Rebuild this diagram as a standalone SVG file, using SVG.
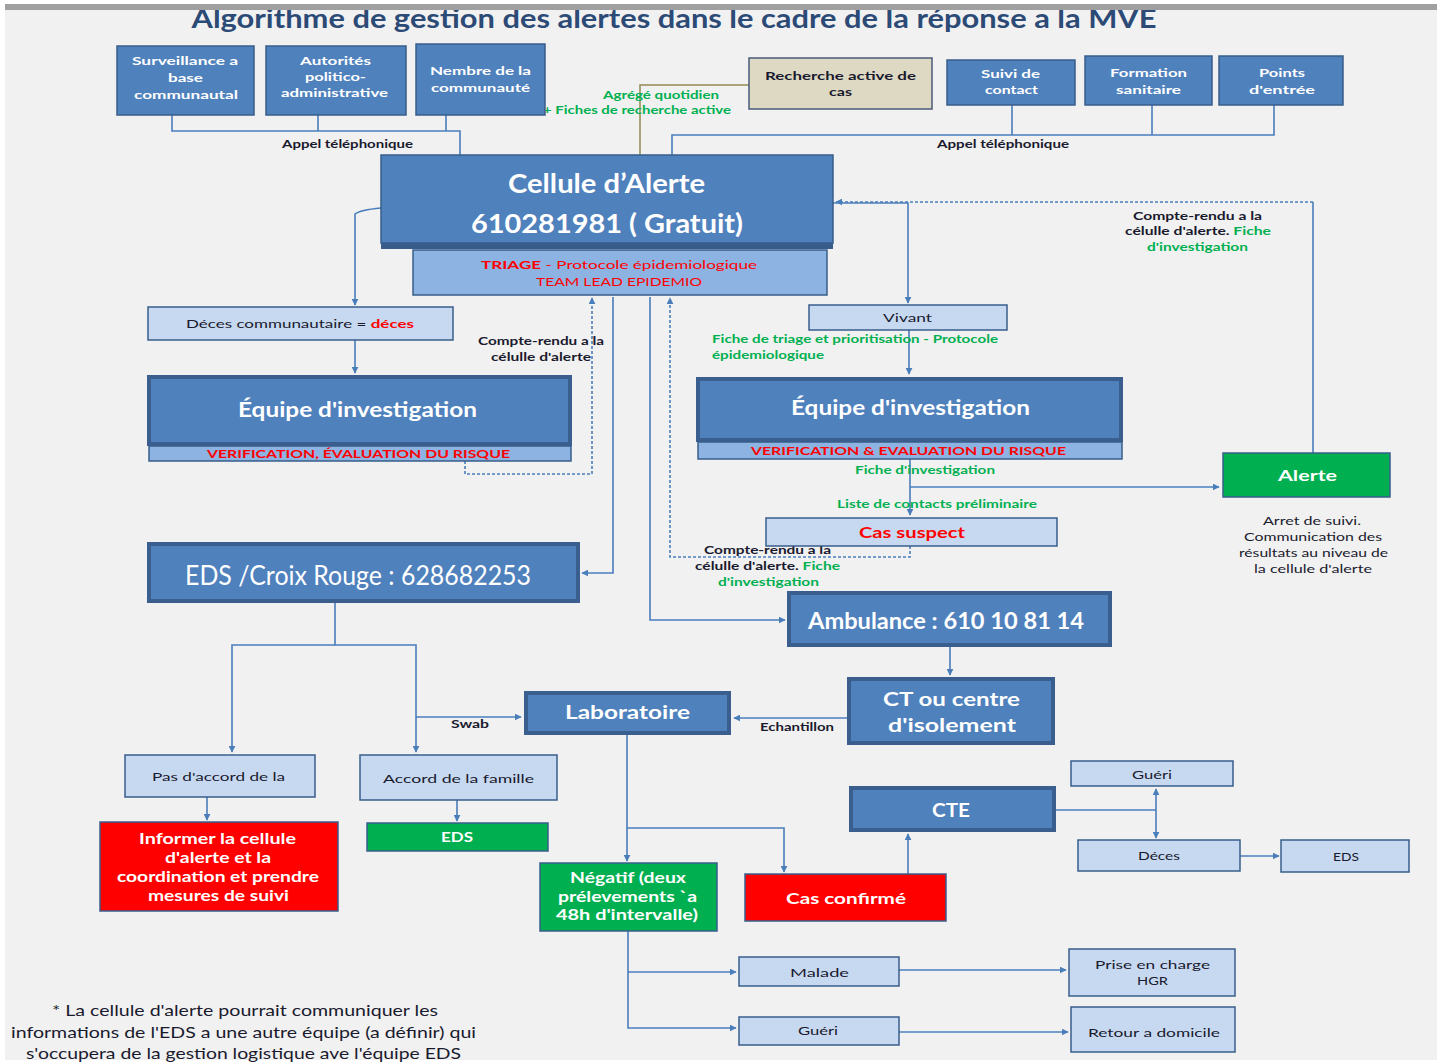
<svg xmlns="http://www.w3.org/2000/svg" width="1440" height="1063" viewBox="0 0 1440 1063">
<defs>
<marker id="ah" viewBox="0 0 10 10" refX="9" refY="5" markerWidth="7" markerHeight="7" markerUnits="userSpaceOnUse" orient="auto"><path d="M0,0 L10,5 L0,10 z" fill="#4a7ebb"/></marker>
<style>
text{font-family:Lato,"Open Sans","Liberation Sans",sans-serif}
.bx{fill:#4f81bd;stroke:#385d8a;stroke-width:1.5}
.bxd{fill:#4f81bd;stroke:#3a5f8f;stroke-width:4}
.lt{fill:#c6d9f1;stroke:#385d8a;stroke-width:1.5}
.sub{fill:#8db3e2;stroke:#385d8a;stroke-width:1.5}
.gr{fill:#00b050;stroke:#385d8a;stroke-width:1.5}
.rd{fill:#ff0000;stroke:#385d8a;stroke-width:1.5}
.tan{fill:#ddd9c3;stroke:#4a5a7a;stroke-width:1.5}
.w{fill:#fff;font-weight:bold;text-anchor:middle}
.d{fill:#1a1a2e;text-anchor:middle}
.db{fill:#1a1a2e;font-weight:bold;text-anchor:middle;font-size:11px}
.g{fill:#00b050;font-weight:bold}
.r{fill:#ff0000}
.c{fill:none;stroke:#4a7ebb;stroke-width:1.6}
.cd{fill:none;stroke:#4a7ebb;stroke-width:1.6;stroke-dasharray:3 2}
</style>
</defs>
<rect x="0" y="0" width="1440" height="1063" fill="#ffffff"/>
<rect x="5" y="8" width="1432" height="1052" fill="#f1f1f1"/>
<text x="674" y="28" font-size="26" font-weight="bold" fill="#2c4a76" text-anchor="middle" textLength="965" lengthAdjust="spacingAndGlyphs">Algorithme de gestion des alertes dans le cadre de la réponse a la MVE</text>
<rect x="5" y="4" width="1432" height="6" fill="#a0a0a0"/>

<g id="connectors">
<path class="c" d="M172,115 V131 H460 V155 M318,115 V131 M446,115 V131"/>
<path class="c" d="M672,155 V135 H1274 V105 M1012,105 V135 M1152,105 V135"/>
<path d="M749,85 H640 V155" fill="none" stroke="#938953" stroke-width="1.5"/>
<path class="c" d="M381,208 Q360,210 355,214 V305" marker-end="url(#ah)"/>
<path class="c" d="M833,203 H908 V303" marker-end="url(#ah)"/>
<path class="c" d="M1313,453 V202"/>
<path class="cd" d="M1313,202 H836" marker-end="url(#ah)"/>
<path class="c" d="M355,340 V373" marker-end="url(#ah)"/>
<path class="cd" d="M465,461 V474 H592 V298" marker-end="url(#ah)"/>
<path class="c" d="M613,297 V573 H582" marker-end="url(#ah)"/>
<path class="c" d="M650,297 V620 H785" marker-end="url(#ah)"/>
<path class="cd" d="M910,546 V557 H670 V298" marker-end="url(#ah)"/>
<path class="c" d="M909,330 V374" marker-end="url(#ah)"/>
<path class="c" d="M910,459 V515" marker-end="url(#ah)"/>
<path class="c" d="M910,487 H1219" marker-end="url(#ah)"/>
<path class="c" d="M950,647 V675" marker-end="url(#ah)"/>
<path class="c" d="M847,718 H734" marker-end="url(#ah)"/>
<path class="c" d="M335,603 V645 H416 V752" marker-end="url(#ah)"/>
<path class="c" d="M335,645 H232 V752" marker-end="url(#ah)"/>
<path class="c" d="M416,717 H521" marker-end="url(#ah)"/>
<path class="c" d="M207,797 V820" marker-end="url(#ah)"/>
<path class="c" d="M457,800 V821" marker-end="url(#ah)"/>
<path class="c" d="M627,735 V861" marker-end="url(#ah)"/>
<path class="c" d="M627,828 H784 V872" marker-end="url(#ah)"/>
<path class="c" d="M908,874 V834" marker-end="url(#ah)"/>
<path class="c" d="M1056,810 H1156"/>
<path class="c" d="M1156,810 V789" marker-end="url(#ah)"/>
<path class="c" d="M1156,810 V838" marker-end="url(#ah)"/>
<path class="c" d="M1240,856 H1279" marker-end="url(#ah)"/>
<path class="c" d="M628,931 V1028 H736" marker-end="url(#ah)"/>
<path class="c" d="M628,972 H736" marker-end="url(#ah)"/>
<path class="c" d="M899,970 H1066" marker-end="url(#ah)"/>
<path class="c" d="M899,1032 H1068" marker-end="url(#ah)"/>
</g>

<g id="labels">
<text class="db" x="347.5" y="148" textLength="131" lengthAdjust="spacingAndGlyphs">Appel téléphonique</text>
<text class="db" x="1003" y="148" textLength="132" lengthAdjust="spacingAndGlyphs">Appel téléphonique</text>
<text class="g" x="661" y="99" font-size="11" text-anchor="middle" textLength="116" lengthAdjust="spacingAndGlyphs">Agrégé quotidien</text>
<text class="g" x="637" y="114" font-size="11" text-anchor="middle" textLength="188" lengthAdjust="spacingAndGlyphs">+ Fiches de recherche  active</text>
<text class="db" x="1197.5" y="220" textLength="129" lengthAdjust="spacingAndGlyphs">Compte-rendu  a la</text>
<text class="db" x="1198" y="235" textLength="146" lengthAdjust="spacingAndGlyphs">célulle d'alerte. <tspan class="g">Fiche</tspan></text>
<text class="g" x="1197.5" y="251" font-size="11" text-anchor="middle" textLength="101" lengthAdjust="spacingAndGlyphs">d'investigation</text>
<text class="db" x="541" y="345" textLength="126" lengthAdjust="spacingAndGlyphs">Compte-rendu  a la</text>
<text class="db" x="541" y="361" textLength="100" lengthAdjust="spacingAndGlyphs">célulle d'alerte</text>
<text class="g" x="712" y="343" font-size="11" textLength="286" lengthAdjust="spacingAndGlyphs">Fiche de triage et prioritisation - Protocole</text>
<text class="g" x="712" y="359" font-size="11" textLength="112" lengthAdjust="spacingAndGlyphs">épidemiologique</text>
<text class="g" x="925" y="474" font-size="11" text-anchor="middle" textLength="140" lengthAdjust="spacingAndGlyphs">Fiche d'investigation</text>
<text class="g" x="937" y="508" font-size="11" text-anchor="middle" textLength="200" lengthAdjust="spacingAndGlyphs">Liste de contacts  préliminaire</text>
<text class="db" x="767.5" y="554" textLength="127" lengthAdjust="spacingAndGlyphs">Compte-rendu  a la</text>
<text class="db" x="767.5" y="570" textLength="145" lengthAdjust="spacingAndGlyphs">célulle d'alerte. <tspan class="g">Fiche</tspan></text>
<text class="g" x="768.5" y="586" font-size="11" text-anchor="middle" textLength="101" lengthAdjust="spacingAndGlyphs">d'investigation</text>
<text class="d" x="1312" y="525" font-size="11" textLength="98" lengthAdjust="spacingAndGlyphs">Arret de suivi.</text>
<text class="d" x="1313" y="541" font-size="11" textLength="138" lengthAdjust="spacingAndGlyphs">Communication des</text>
<text class="d" x="1313.5" y="557" font-size="11" textLength="149" lengthAdjust="spacingAndGlyphs">résultats au niveau de</text>
<text class="d" x="1313" y="573" font-size="11" textLength="118" lengthAdjust="spacingAndGlyphs">la cellule d'alerte</text>
<text class="db" x="797" y="731" textLength="74" lengthAdjust="spacingAndGlyphs">Echantillon</text>
<text class="db" x="470" y="728" textLength="38" lengthAdjust="spacingAndGlyphs">Swab</text>
<text class="d" x="245" y="1016" font-size="15" textLength="386" lengthAdjust="spacingAndGlyphs">* La cellule d'alerte pourrait communiquer les</text>
<text class="d" x="243.5" y="1038" font-size="15" textLength="465" lengthAdjust="spacingAndGlyphs">informations de l'EDS a une autre équipe (a définir) qui</text>
<text class="d" x="243.5" y="1059" font-size="15" textLength="435" lengthAdjust="spacingAndGlyphs">s'occupera de la gestion logistique ave l'équipe EDS</text>
</g>

<g id="n-surveillance"><rect class="bx" x="117" y="46" width="137" height="69"/>
<text class="w" font-size="12" x="185" y="65" textLength="106" lengthAdjust="spacingAndGlyphs">Surveillance  a</text><text class="w" font-size="12" x="185.5" y="82" textLength="35" lengthAdjust="spacingAndGlyphs">base</text><text class="w" font-size="12" x="186" y="99" textLength="104" lengthAdjust="spacingAndGlyphs">communautal</text></g>
<g id="n-autorites"><rect class="bx" x="266" y="46" width="140" height="69"/>
<text class="w" font-size="12" x="335.5" y="65" textLength="71" lengthAdjust="spacingAndGlyphs">Autorités</text><text class="w" font-size="12" x="335.5" y="81" textLength="61" lengthAdjust="spacingAndGlyphs">politico-</text><text class="w" font-size="12" x="334.5" y="97" textLength="107" lengthAdjust="spacingAndGlyphs">administrative</text></g>
<g id="n-nembre"><rect class="bx" x="416" y="44" width="129" height="71"/>
<text class="w" font-size="12" x="480.5" y="75" textLength="101" lengthAdjust="spacingAndGlyphs">Nembre de la</text><text class="w" font-size="12" x="480.5" y="92" textLength="99" lengthAdjust="spacingAndGlyphs">communauté</text></g>
<g id="n-recherche"><rect class="tan" x="749" y="58" width="183" height="51"/>
<text class="db" font-size="12" x="840.5" y="80" textLength="151" lengthAdjust="spacingAndGlyphs">Recherche  active  de</text><text class="db" font-size="12" x="840.5" y="96" textLength="23" lengthAdjust="spacingAndGlyphs">cas</text></g>
<g id="n-suivi"><rect class="bx" x="947" y="60" width="128" height="45"/>
<text class="w" font-size="12" x="1010.5" y="78" textLength="59" lengthAdjust="spacingAndGlyphs">Suivi de</text><text class="w" font-size="12" x="1011.5" y="94" textLength="53" lengthAdjust="spacingAndGlyphs">contact</text></g>
<g id="n-formation"><rect class="bx" x="1085" y="56" width="127" height="49"/>
<text class="w" font-size="12" x="1148.5" y="77" textLength="77" lengthAdjust="spacingAndGlyphs">Formation</text><text class="w" font-size="12" x="1148.5" y="94" textLength="65" lengthAdjust="spacingAndGlyphs">sanitaire</text></g>
<g id="n-points"><rect class="bx" x="1219" y="56" width="124" height="49"/>
<text class="w" font-size="12" x="1282" y="77" textLength="46" lengthAdjust="spacingAndGlyphs">Points</text><text class="w" font-size="12" x="1282" y="94" textLength="66" lengthAdjust="spacingAndGlyphs">d'entrée</text></g>

<g id="n-cellule"><rect x="381" y="155" width="452" height="94" fill="#385d8a"/><rect class="bx" x="381" y="155" width="452" height="88"/>
<text class="w" font-size="27" x="606.5" y="193" textLength="197" lengthAdjust="spacingAndGlyphs">Cellule d’Alerte</text><text class="w" font-size="27" x="607" y="233" textLength="272" lengthAdjust="spacingAndGlyphs">610281981 ( Gratuit)</text>
<rect class="sub" x="413" y="250" width="414" height="45"/>
<text class="r" font-size="12" x="619" y="269" text-anchor="middle" textLength="276" lengthAdjust="spacingAndGlyphs"><tspan font-weight="bold">TRIAGE</tspan>   - Protocole épidemiologique</text>
<text class="r" font-size="12" x="619" y="286" text-anchor="middle" textLength="166" lengthAdjust="spacingAndGlyphs">TEAM  LEAD  EPIDEMIO</text></g>

<g id="n-deces-comm"><rect class="lt" x="148" y="307" width="305" height="33"/>
<text class="d" font-size="12" x="300" y="328" textLength="228" lengthAdjust="spacingAndGlyphs">Déces communautaire = <tspan class="r" font-weight="bold">déces</tspan></text></g>

<g id="n-equipe1"><rect class="bxd" x="149" y="377" width="421" height="67"/>
<text class="w" font-size="20" x="357.5" y="417" textLength="239" lengthAdjust="spacingAndGlyphs">Équipe d'investigation</text>
<rect class="sub" x="149" y="446" width="422" height="15"/>
<text class="r" font-size="12" font-weight="bold" x="358.5" y="458" text-anchor="middle" textLength="303" lengthAdjust="spacingAndGlyphs">VERIFICATION,  ÉVALUATION  DU RISQUE</text></g>

<g id="n-vivant"><rect class="lt" x="809" y="305" width="198" height="25"/>
<text class="d" font-size="12" x="907.5" y="322" textLength="49" lengthAdjust="spacingAndGlyphs">Vivant</text></g>

<g id="n-equipe2"><rect class="bxd" x="698" y="379" width="423" height="61"/>
<text class="w" font-size="20" x="910.5" y="415" textLength="239" lengthAdjust="spacingAndGlyphs">Équipe d'investigation</text>
<rect class="sub" x="698" y="442" width="424" height="17"/>
<text class="r" font-size="12" font-weight="bold" x="908.5" y="455" text-anchor="middle" textLength="315" lengthAdjust="spacingAndGlyphs">VERIFICATION  &amp; EVALUATION  DU RISQUE</text></g>

<g id="n-alerte"><rect class="gr" x="1223" y="453" width="167" height="44"/>
<text class="w" font-size="16" x="1307.5" y="481" textLength="59" lengthAdjust="spacingAndGlyphs">Alerte</text></g>

<g id="n-cas-suspect"><rect class="lt" x="766" y="518" width="291" height="28"/>
<text class="r" font-size="15" font-weight="bold" x="912" y="538" text-anchor="middle" textLength="106" lengthAdjust="spacingAndGlyphs">Cas suspect</text></g>

<g id="n-eds-croix"><rect class="bxd" x="149" y="544" width="429" height="57"/>
<text fill="#fff" font-size="26" x="358" y="585" text-anchor="middle" textLength="346" lengthAdjust="spacingAndGlyphs">EDS /Croix Rouge : 628682253</text></g>

<g id="n-ambulance"><rect class="bxd" x="789" y="593" width="321" height="52"/>
<text class="w" font-size="22" x="946" y="629" textLength="276" lengthAdjust="spacingAndGlyphs">Ambulance : 610 10 81 14</text></g>

<g id="n-ct"><rect class="bxd" x="849" y="679" width="204" height="64"/>
<text class="w" font-size="19" x="951.5" y="706" textLength="137" lengthAdjust="spacingAndGlyphs">CT ou centre</text><text class="w" font-size="19" x="952" y="732" textLength="128" lengthAdjust="spacingAndGlyphs">d'isolement</text></g>

<g id="n-labo"><rect class="bxd" x="526" y="693" width="203" height="40"/>
<text class="w" font-size="19" x="627.5" y="719" textLength="125" lengthAdjust="spacingAndGlyphs">Laboratoire</text></g>

<g id="n-pas-accord"><rect class="lt" x="125" y="755" width="190" height="42"/>
<text class="d" font-size="12" x="218.5" y="781" textLength="133" lengthAdjust="spacingAndGlyphs">Pas d'accord de la</text></g>

<g id="n-accord"><rect class="lt" x="360" y="755" width="197" height="45"/>
<text class="d" font-size="12" x="458.5" y="783" textLength="151" lengthAdjust="spacingAndGlyphs">Accord de la famille</text></g>

<g id="n-informer"><rect class="rd" x="100" y="822" width="238" height="89"/>
<text class="w" font-size="15" x="217.5" y="844" textLength="157" lengthAdjust="spacingAndGlyphs">Informer la cellule</text><text class="w" font-size="15" x="218" y="863" textLength="106" lengthAdjust="spacingAndGlyphs">d'alerte et la</text><text class="w" font-size="15" x="218" y="882" textLength="202" lengthAdjust="spacingAndGlyphs">coordination et prendre</text><text class="w" font-size="15" x="218.5" y="901" textLength="141" lengthAdjust="spacingAndGlyphs">mesures de suivi</text></g>

<g id="n-eds-green"><rect class="gr" x="367" y="823" width="181" height="28"/>
<text class="w" font-size="14" x="457" y="842" textLength="32" lengthAdjust="spacingAndGlyphs">EDS</text></g>

<g id="n-negatif"><rect class="gr" x="540" y="863" width="177" height="68"/>
<text class="w" font-size="15" x="628" y="883" textLength="116" lengthAdjust="spacingAndGlyphs">Négatif (deux</text><text class="w" font-size="15" x="627.5" y="902" textLength="139" lengthAdjust="spacingAndGlyphs">prélevements `a</text><text class="w" font-size="15" x="627" y="920" textLength="142" lengthAdjust="spacingAndGlyphs">48h d'intervalle)</text></g>

<g id="n-cas-confirme"><rect class="rd" x="745" y="874" width="201" height="47"/>
<text class="w" font-size="16" x="846" y="904" textLength="120" lengthAdjust="spacingAndGlyphs">Cas confirmé</text></g>

<g id="n-cte"><rect class="bxd" x="851" y="788" width="203" height="42"/>
<text class="w" font-size="19" x="951" y="817" textLength="38" lengthAdjust="spacingAndGlyphs">CTE</text></g>

<g id="n-gueri-top"><rect class="lt" x="1071" y="761" width="162" height="25"/>
<text class="d" font-size="12" x="1152" y="779" textLength="40" lengthAdjust="spacingAndGlyphs">Guéri</text></g>

<g id="n-deces"><rect class="lt" x="1078" y="840" width="162" height="31"/>
<text class="d" font-size="12" x="1159" y="860" textLength="42" lengthAdjust="spacingAndGlyphs">Déces</text></g>

<g id="n-eds-right"><rect class="lt" x="1281" y="840" width="128" height="32"/>
<text class="d" font-size="12" x="1346" y="861" textLength="26" lengthAdjust="spacingAndGlyphs">EDS</text></g>

<g id="n-malade"><rect class="lt" x="739" y="957" width="160" height="29"/>
<text class="d" font-size="12" x="819.5" y="977" textLength="59" lengthAdjust="spacingAndGlyphs">Malade</text></g>

<g id="n-gueri-bottom"><rect class="lt" x="739" y="1017" width="160" height="28"/>
<text class="d" font-size="12" x="818" y="1035" textLength="40" lengthAdjust="spacingAndGlyphs">Guéri</text></g>

<g id="n-prise"><rect class="lt" x="1069" y="949" width="166" height="47"/>
<text class="d" font-size="12" x="1152.5" y="969" textLength="115" lengthAdjust="spacingAndGlyphs">Prise en charge</text><text class="d" font-size="12" x="1152.5" y="985" textLength="31" lengthAdjust="spacingAndGlyphs">HGR</text></g>

<g id="n-retour"><rect class="lt" x="1071" y="1007" width="164" height="45"/>
<text class="d" font-size="12" x="1154" y="1037" textLength="132" lengthAdjust="spacingAndGlyphs">Retour a domicile</text></g>
</svg>
